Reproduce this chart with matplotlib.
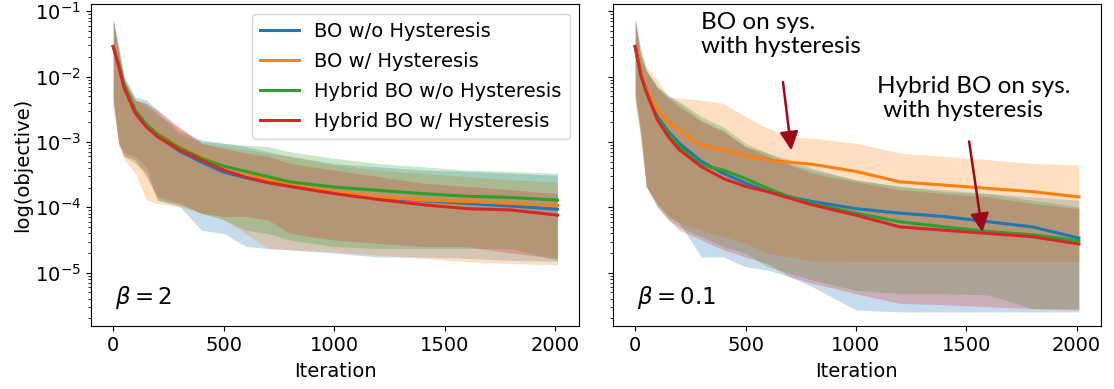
import numpy as np
import matplotlib
matplotlib.use("Agg")
import matplotlib.pyplot as plt

# iteration grid where the curves were sampled
iters = [0, 25, 50, 100, 150, 200, 300, 400, 500, 600, 700, 800, 1000, 1200, 1400, 1600, 1800, 2010]

labels = ["BO w/o Hysteresis", "BO w/ Hysteresis", "Hybrid BO w/o Hysteresis", "Hybrid BO w/ Hysteresis"]
colors = ["tab:blue", "tab:orange", "tab:green", "tab:red"]

# log10(objective), beta = 2
b2_mean = {
    "blue":   [-1.54, -1.82, -2.15, -2.55, -2.76, -2.90, -3.14, -3.31, -3.46, -3.55, -3.62, -3.68, -3.78, -3.85, -3.90, -3.94, -3.98, -4.03],
    "orange": [-1.54, -1.82, -2.14, -2.52, -2.73, -2.86, -3.07, -3.23, -3.37, -3.47, -3.57, -3.65, -3.76, -3.84, -3.89, -3.91, -3.94, -3.97],
    "green":  [-1.54, -1.82, -2.13, -2.52, -2.73, -2.88, -3.09, -3.25, -3.37, -3.45, -3.53, -3.61, -3.69, -3.74, -3.79, -3.83, -3.85, -3.89],
    "red":    [-1.54, -1.85, -2.18, -2.56, -2.77, -2.92, -3.12, -3.28, -3.43, -3.54, -3.62, -3.68, -3.79, -3.88, -3.96, -4.02, -4.04, -4.12],
}
b2_upper = {
    "blue":   [-1.13, -1.54, -2.00, -2.31, -2.36, -2.51, -2.82, -2.97, -3.02, -3.07, -3.15, -3.22, -3.33, -3.38, -3.43, -3.45, -3.48, -3.51],
    "orange": [-1.13, -1.59, -2.03, -2.36, -2.46, -2.59, -2.79, -3.02, -3.07, -3.12, -3.17, -3.22, -3.35, -3.43, -3.48, -3.53, -3.58, -3.61],
    "green":  [-1.13, -1.59, -2.05, -2.36, -2.41, -2.56, -2.87, -2.99, -3.02, -3.05, -3.07, -3.15, -3.25, -3.33, -3.38, -3.43, -3.45, -3.48],
    "red":    [-1.13, -1.64, -2.08, -2.36, -2.41, -2.51, -2.77, -3.02, -3.10, -3.17, -3.22, -3.33, -3.43, -3.53, -3.63, -3.68, -3.73, -3.79],
}
b2_lower = {
    "blue":   [-2.36, -3.02, -3.17, -3.22, -3.38, -3.89, -3.99, -4.35, -4.40, -4.60, -4.63, -4.65, -4.70, -4.76, -4.76, -4.78, -4.81, -4.83],
    "orange": [-2.46, -3.07, -3.27, -3.48, -3.89, -3.94, -3.99, -4.09, -4.19, -4.40, -4.63, -4.65, -4.68, -4.73, -4.78, -4.83, -4.86, -4.88],
    "green":  [-2.36, -3.02, -3.22, -3.33, -3.48, -3.89, -3.96, -4.09, -4.19, -4.35, -4.40, -4.50, -4.60, -4.63, -4.63, -4.63, -4.63, -4.81],
    "red":    [-2.41, -3.02, -3.22, -3.27, -3.53, -3.84, -3.94, -4.09, -4.14, -4.14, -4.19, -4.40, -4.50, -4.55, -4.60, -4.60, -4.70, -4.78],
}

# log10(objective), beta = 0.1
b01_mean = {
    "blue":   [-1.54, -1.97, -2.23, -2.61, -2.84, -3.02, -3.30, -3.48, -3.63, -3.76, -3.84, -3.91, -4.02, -4.09, -4.14, -4.22, -4.30, -4.47],
    "orange": [-1.54, -1.95, -2.18, -2.51, -2.69, -2.82, -3.05, -3.12, -3.21, -3.27, -3.31, -3.34, -3.45, -3.61, -3.66, -3.71, -3.76, -3.84],
    "green":  [-1.54, -1.97, -2.23, -2.64, -2.87, -3.07, -3.35, -3.43, -3.56, -3.71, -3.84, -3.94, -4.09, -4.22, -4.30, -4.37, -4.42, -4.51],
    "red":    [-1.54, -1.97, -2.23, -2.66, -2.92, -3.12, -3.38, -3.56, -3.68, -3.76, -3.86, -3.96, -4.12, -4.30, -4.35, -4.40, -4.45, -4.56],
}
b01_upper = {
    "blue":   [-1.13, -1.69, -1.90, -2.15, -2.28, -2.41, -2.66, -2.82, -3.07, -3.17, -3.27, -3.40, -3.58, -3.68, -3.73, -3.79, -3.84, -3.89],
    "orange": [-1.13, -1.59, -1.85, -2.05, -2.31, -2.33, -2.36, -2.41, -2.61, -2.79, -2.92, -2.94, -3.02, -3.17, -3.22, -3.27, -3.33, -3.35],
    "green":  [-1.13, -1.59, -1.90, -2.15, -2.31, -2.38, -2.61, -2.77, -3.02, -3.17, -3.33, -3.43, -3.58, -3.68, -3.76, -3.79, -3.89, -3.99],
    "red":    [-1.13, -1.69, -1.92, -2.18, -2.33, -2.46, -2.69, -2.84, -3.07, -3.22, -3.35, -3.48, -3.61, -3.73, -3.79, -3.84, -3.94, -4.02],
}
b01_lower = {
    "blue":   [-2.26, -2.77, -3.68, -3.94, -4.14, -4.24, -4.76, -4.76, -4.91, -4.96, -5.06, -5.21, -5.57, -5.60, -5.60, -5.60, -5.60, -5.60],
    "orange": [-2.36, -2.97, -3.68, -3.94, -4.14, -4.24, -4.35, -4.45, -4.55, -4.70, -4.76, -4.81, -4.83, -4.83, -4.83, -4.83, -4.83, -4.83],
    "green":  [-2.36, -2.87, -3.68, -3.99, -4.19, -4.30, -4.45, -4.60, -4.70, -4.91, -5.01, -5.11, -5.27, -5.32, -5.32, -5.34, -5.55, -5.55],
    "red":    [-2.31, -2.92, -3.68, -3.99, -4.19, -4.35, -4.50, -4.65, -4.76, -4.86, -5.06, -5.16, -5.32, -5.47, -5.49, -5.52, -5.55, -5.57],
}

keys = ["blue", "orange", "green", "red"]
x = np.array(iters)
FS = 14


def draw(ax, mean, lower, upper):
    for k, c in zip(keys, colors):
        ax.fill_between(x, 10 ** np.array(lower[k]), 10 ** np.array(upper[k]),
                        color=c, alpha=0.25, linewidth=0)
    for k, lab, c in zip(keys, labels, colors):
        ax.plot(x, 10 ** np.array(mean[k]), color=c, lw=2.2, label=lab)
    ax.set_yscale("log")
    ax.set_ylim(1.53e-6, 0.129)
    ax.set_xlim(-102, 2109)
    ax.set_xticks([0, 500, 1000, 1500, 2000])
    ax.tick_params(labelsize=FS)
    ax.set_xlabel("Iteration", fontsize=FS, labelpad=5)


fig = plt.figure(figsize=(11.14, 3.89), dpi=100)
ax1 = fig.add_axes([90.7 / 1114, 63 / 389, 488.6 / 1114, 322 / 389])
ax2 = fig.add_axes([612.7 / 1114, 63 / 389, 488 / 1114, 322 / 389])

draw(ax1, b2_mean, b2_lower, b2_upper)
draw(ax2, b01_mean, b01_lower, b01_upper)

ax1.set_ylabel("log(objective)", fontsize=FS, labelpad=2)
ax1.legend(loc="upper right", fontsize=FS, labelspacing=0.57)
ax2.tick_params(axis="y", which="both", labelleft=False)

ax1.text(0.05, 0.09, r"$\beta = 2$", transform=ax1.transAxes, fontsize=16.5, va="center")
ax2.text(0.05, 0.09, r"$\beta = 0.1$", transform=ax2.transAxes, fontsize=16.5, va="center")

# callouts on the beta = 0.1 panel
arrow = dict(arrowstyle="-|>", color="#9b0a1a", lw=1.8, mutation_scale=28)
ax2.text(0.181, 0.975, "BO on sys.\nwith hysteresis", transform=ax2.transAxes,
         fontsize=17.5, family="Lato", va="top", linespacing=1.15)
ax2.annotate("", xy=(709, 10 ** -3.17), xytext=(668, 10 ** -2.04), arrowprops=arrow)
ax2.text(0.542, 0.776, "Hybrid BO on sys.\n with hysteresis", transform=ax2.transAxes,
         fontsize=17.5, family="Lato", va="top", linespacing=1.15)
ax2.annotate("", xy=(1575, 10 ** -4.42), xytext=(1511, 10 ** -2.95), arrowprops=arrow)

fig.savefig("out.png", dpi=100)
plt.close(fig)
